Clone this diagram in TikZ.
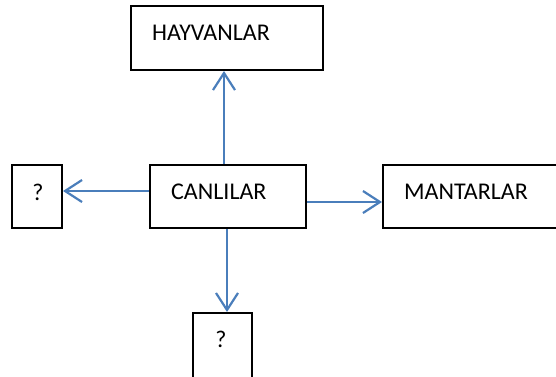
\documentclass[tikz,border=0pt]{standalone}
\usepackage{fontspec}
\setmainfont{Carlito}
\usetikzlibrary{arrows.meta}
\definecolor{arrblue}{HTML}{4A7EBB}
\begin{document}
\begin{tikzpicture}[x=1pt,y=-1pt,
  box/.style={draw=black,line width=2pt,inner sep=0pt},
  lbl/.style={font=\fontsize{24}{28}\selectfont,inner sep=0pt,anchor=west},
  arr/.style={draw=arrblue,line width=2.2pt,-{Straight Barb[length=17pt,width=22pt,line width=2.2pt]}}]
\useasboundingbox (0,0) rectangle (556,376);
\fill[white] (0,0) rectangle (556,376);
\node[box,minimum width=192pt,minimum height=64pt] (hay) at (227,38) {};
\node[box,minimum width=156pt,minimum height=63pt] (canl) at (228,196.5) {};
\node[box,minimum width=190pt,minimum height=63pt] (mant) at (478,196.5) {};
\node[box,minimum width=50pt,minimum height=63pt] (q1) at (37,196.5) {};
\node[box,minimum width=59pt,minimum height=70pt] (q2) at (222.5,348) {};
\node[lbl] (thay) at (152,33) {HAYVANLAR};
\node[lbl] (tcanl) at (171,192) {CANLILAR};
\node[lbl] (tmant) at (404,192) {MANTARLAR};
\node[lbl,anchor=center] (tq1) at (38,192) {?};
\node[lbl,anchor=center] (tq2) at (221,339) {?};
\coordinate (cu) at (224,0);
\coordinate (cd) at (227,0);
\coordinate (cl) at (0,191);
\coordinate (cr) at (0,202);
\draw[arr] (canl.north -| cu) -- (hay.south -| cu);
\draw[arr] (canl.west |- cl) -- (q1.east |- cl);
\draw[arr] (canl.east |- cr) -- (mant.west |- cr);
\draw[arr] (canl.south -| cd) -- (q2.north -| cd);
\end{tikzpicture}
\end{document}
